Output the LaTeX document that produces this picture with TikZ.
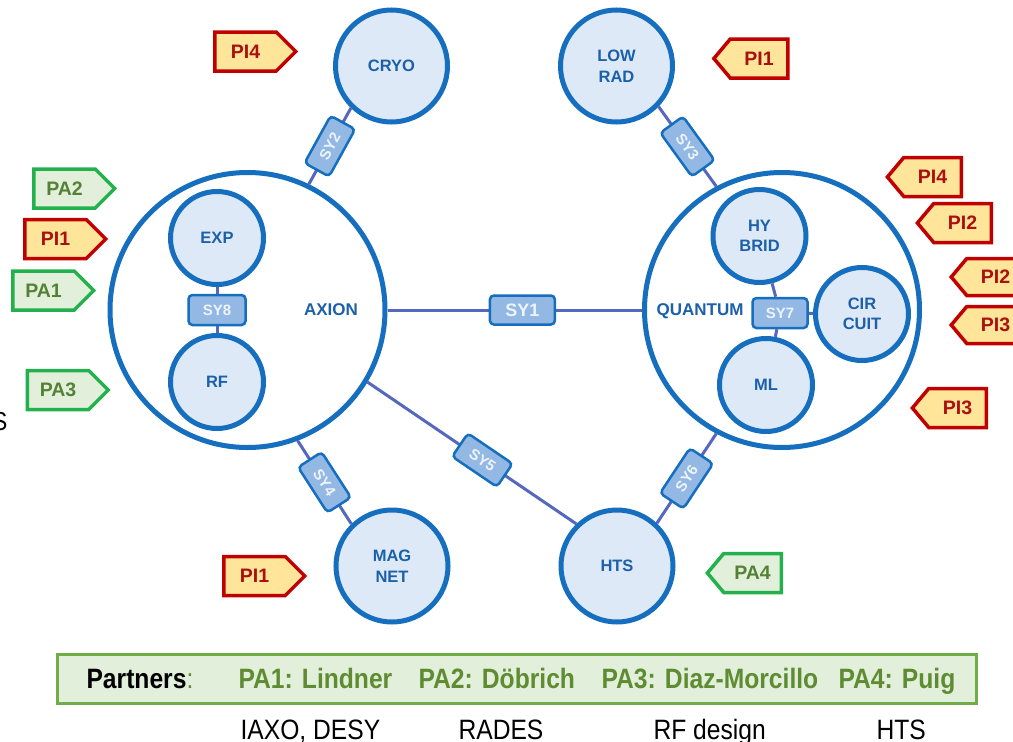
\documentclass[tikz,border=0pt]{standalone}
\usepackage{fontspec}
\setmainfont{Liberation Sans}
\newfontfamily\narrowfont[FakeStretch=0.88]{Liberation Sans}
\usetikzlibrary{shapes.symbols,calc}

\definecolor{ringblue}{RGB}{21,110,190}
\definecolor{subfill}{RGB}{221,233,246}
\definecolor{labelblue}{RGB}{28,96,170}
\definecolor{linkblue}{RGB}{86,104,190}
\definecolor{syfill}{RGB}{146,184,227}
\definecolor{sytext}{RGB}{238,244,251}
\definecolor{tagred}{RGB}{192,0,0}
\definecolor{tagyellow}{RGB}{255,229,153}
\definecolor{pitext}{RGB}{170,16,16}
\definecolor{tagborder}{RGB}{34,177,76}
\definecolor{taggreen}{RGB}{226,239,218}
\definecolor{patext}{RGB}{84,130,53}
\definecolor{partborder}{RGB}{112,173,71}
\definecolor{parttext}{RGB}{95,140,50}

\tikzset{
  x=1pt, y=-1pt,
  bigring/.style={circle, draw=ringblue, line width=5pt, fill=white,
    minimum size=275pt, inner sep=0pt},
  unit/.style={circle, draw=ringblue, line width=5pt, fill=subfill,
    minimum size=93pt, inner sep=0pt, align=center, text=labelblue,
    font=\fontsize{16.5}{20.5}\selectfont\bfseries},
  satellite/.style={unit, minimum size=112pt},
  ringlabel/.style={text=labelblue, font=\fontsize{17}{17}\selectfont\bfseries},
  link/.style={draw=linkblue, line width=3pt},
  sybox/.style={rectangle, rounded corners=4pt, draw=ringblue, line width=2.5pt,
    fill=syfill, text=sytext, inner sep=0pt, minimum width=54pt, minimum height=28pt,
    font=\fontsize{15}{15}\selectfont\bfseries},
  tagbase/.style={shape=signal, line width=3.5pt, minimum height=39pt,
    inner xsep=4pt, inner ysep=0pt, align=center,
    font=\fontsize{19.5}{19.5}\selectfont\bfseries},
  pitag/.style={tagbase, draw=tagred, fill=tagyellow, text=pitext},
  patag/.style={tagbase, draw=tagborder, fill=taggreen, text=patext},
  toright/.style={signal to=east, signal from=nowhere, signal pointer angle=90, text width=53.5pt},
  toleft/.style={signal to=west, signal from=nowhere, signal pointer angle=100, text width=49.5pt},
  partner/.style={anchor=base west, text=parttext,
    font=\narrowfont\fontsize{28}{28}\selectfont\bfseries},
  note/.style={anchor=base west, text=black,
    font=\narrowfont\fontsize{28}{28}\selectfont},
}

\begin{document}
\begin{tikzpicture}
\useasboundingbox (0,0) rectangle (1013,742);
\clip (0,0) rectangle (1013,742);

% the two main groups
\node[bigring] (axion) at (247.5,310) {};
\node[bigring] (quantum) at (782,310) {};
\node[ringlabel] (axionlbl) at (331,310) {AXION};
\node[ringlabel] (quantumlbl) at (700,311) {QUANTUM};

% units inside the groups
\node[unit] (exp) at (217,238) {EXP};
\node[unit] (rf) at (217,382) {RF};
\node[unit] (hybrid) at (759.5,236) {HY\\BRID};
\node[unit] (circuit) at (862,314) {CIR\\CUIT};
\node[unit] (ml) at (766,385) {ML};

% satellite units
\node[satellite] (cryo) at (391.5,66) {CRYO};
\node[satellite] (lowrad) at (616.5,66) {LOW\\RAD};
\node[satellite] (magnet) at (392,566) {MAG\\NET};
\node[satellite] (hts) at (617,566) {HTS};

% synergies
\draw[link] (axion) -- node[sybox, minimum width=65pt, minimum height=29pt,
  font=\fontsize{18}{18}\selectfont\bfseries, pos=0.53] (sy1) {SY1} (quantum);
\draw[link] (axion.64) -- node[sybox, sloped] (sy2) {SY2} (cryo.226);
\draw[link] (lowrad.-44) -- node[sybox, sloped] (sy3) {SY3} (quantum.118);
\draw[link] (axion.-69) -- node[sybox, sloped] (sy4) {SY4} (magnet.134);
\draw[link] (axion.-31) -- node[sybox, sloped, pos=0.55] (sy5) {SY5} (hts.134);
\draw[link] (hts.47) -- node[sybox, sloped] (sy6) {SY6} (quantum.242);
\draw[link] (exp) -- node[sybox, minimum width=57pt, minimum height=30pt] (sy8) {SY8} (rf);

\node[sybox, minimum width=55pt, minimum height=30pt] (sy7) at (780,313) {SY7};
\draw[link] (hybrid) -- (sy7);
\draw[link] (sy7) -- (ml);
\draw[link] (sy7) -- (circuit);

% principal investigators and partners
\node[pitag, toright] (pi4a) at (245.5,51.5) {PI4};
\node[patag, toright] (pa2) at (64.5,188.5) {PA2};
\node[pitag, toright] (pi1a) at (55.5,239) {PI1};
\node[patag, toright] (pa1) at (43.5,290.5) {PA1};
\node[patag, toright] (pa3) at (58,390) {PA3};
\node[pitag, toright] (pi1b) at (254.5,576) {PI1};

\node[pitag, toleft] (pi1c) at (759,58.5) {PI1};
\node[pitag, toleft] (pi4b) at (932.5,177) {PI4};
\node[pitag, toleft] (pi2a) at (962.5,223) {PI2};
\node[pitag, toleft, minimum height=37pt] (pi2b) at (995.5,277) {PI2};
\node[pitag, toleft, minimum height=37pt] (pi3a) at (995.5,325) {PI3};
\node[pitag, toleft] (pi3b) at (957.5,408) {PI3};
\node[patag, toleft] (pa4) at (752.5,573) {PA4};

\node[note, anchor=base east, font=\narrowfont\fontsize{26}{26}\selectfont] (cut) at (11,430) {S};

% partner legend
\node[rectangle, draw=partborder, fill=taggreen, line width=3pt,
  minimum width=919pt, minimum height=49pt] (legend) at (517,679) {};
\node[partner, text=black] (plbl) at (83,688) {Partners\textmd{\color{parttext}:}};
\node[partner] (p1) at (235,688) {PA1: Lindner};
\node[partner] (p2) at (415,688) {PA2: Döbrich};
\node[partner] (p3) at (598,688) {PA3: Diaz-Morcillo};
\node[partner] (p4) at (835,688) {PA4: Puig};

\node[note] (n1) at (237,739) {IAXO, DESY};
\node[note] (n2) at (455,739) {RADES};
\node[note] (n3) at (650,739) {RF design};
\node[note] (n4) at (873,739) {HTS};
\end{tikzpicture}
\end{document}
